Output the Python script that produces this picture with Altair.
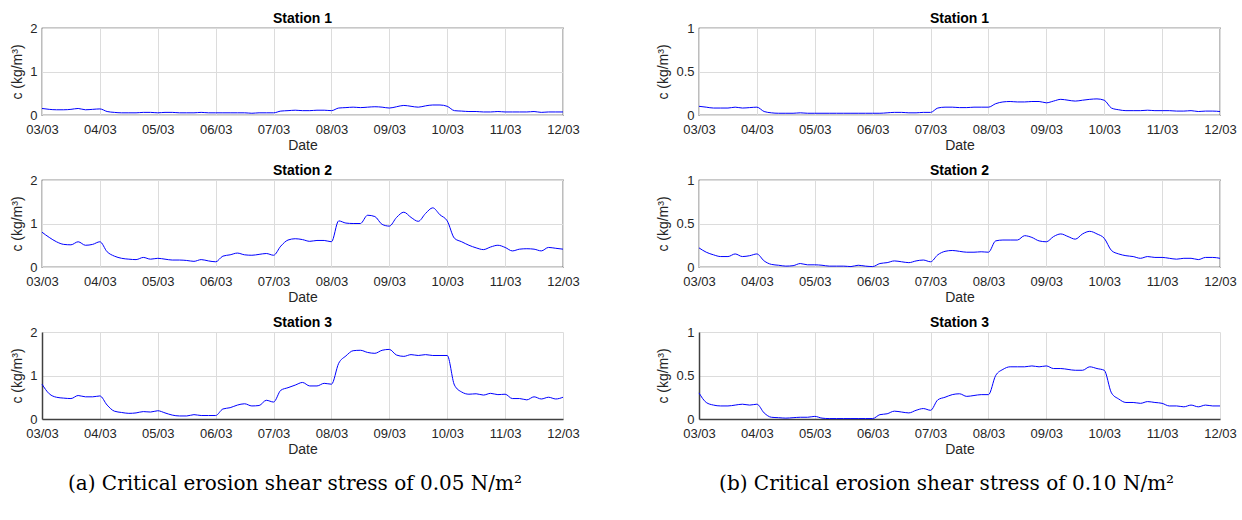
import altair as alt
import pandas as pd

DATE_LABELS = ["03/03", "04/03", "05/03", "06/03", "07/03",
               "08/03", "09/03", "10/03", "11/03", "12/03"]
STATIONS = ["Station 1", "Station 2", "Station 3"]

# 3-hourly samples from 03/03 00:00 to 12/03 00:00 (73 values each)
A_S1 = [0.15, 0.13, 0.12, 0.12, 0.13, 0.15, 0.12, 0.13, 0.14,
        0.08, 0.06, 0.05, 0.05, 0.05, 0.06, 0.06, 0.05,
        0.06, 0.06, 0.05, 0.05, 0.05, 0.06, 0.05, 0.05,
        0.05, 0.05, 0.05, 0.05, 0.04, 0.05, 0.05, 0.05,
        0.09, 0.10, 0.11, 0.10, 0.10, 0.11, 0.11, 0.10,
        0.16, 0.17, 0.18, 0.17, 0.18, 0.19, 0.18, 0.16,
        0.19, 0.22, 0.20, 0.18, 0.21, 0.23, 0.23, 0.20,
        0.10, 0.09, 0.08, 0.08, 0.07, 0.07, 0.08, 0.07,
        0.07, 0.07, 0.07, 0.08, 0.06, 0.07, 0.07, 0.07]
A_S2 = [0.80, 0.68, 0.58, 0.52, 0.51, 0.58, 0.50, 0.52, 0.58,
        0.35, 0.25, 0.20, 0.18, 0.17, 0.22, 0.18, 0.20,
        0.18, 0.16, 0.16, 0.15, 0.13, 0.17, 0.14, 0.12,
        0.25, 0.28, 0.32, 0.28, 0.27, 0.29, 0.31, 0.27,
        0.48, 0.62, 0.65, 0.63, 0.59, 0.61, 0.61, 0.58,
        1.06, 1.01, 1.00, 1.00, 1.19, 1.16, 0.98, 0.94,
        1.14, 1.26, 1.14, 1.05, 1.23, 1.36, 1.20, 1.06,
        0.66, 0.58, 0.50, 0.44, 0.40, 0.46, 0.50, 0.45,
        0.37, 0.41, 0.42, 0.41, 0.37, 0.45, 0.43, 0.41]
A_S3 = [0.80, 0.58, 0.50, 0.48, 0.47, 0.54, 0.51, 0.51, 0.53,
        0.32, 0.18, 0.15, 0.13, 0.14, 0.17, 0.16, 0.19,
        0.14, 0.09, 0.07, 0.07, 0.10, 0.08, 0.08, 0.08,
        0.23, 0.26, 0.32, 0.35, 0.30, 0.31, 0.43, 0.39,
        0.66, 0.72, 0.78, 0.84, 0.76, 0.76, 0.82, 0.80,
        1.28, 1.45, 1.57, 1.58, 1.53, 1.51, 1.58, 1.60,
        1.47, 1.44, 1.48, 1.46, 1.48, 1.46, 1.46, 1.46,
        0.78, 0.62, 0.57, 0.58, 0.55, 0.59, 0.56, 0.57,
        0.47, 0.47, 0.44, 0.51, 0.46, 0.50, 0.46, 0.50]

B_S1 = [0.10, 0.09, 0.08, 0.08, 0.08, 0.09, 0.08, 0.085, 0.09,
        0.04, 0.025, 0.02, 0.02, 0.02, 0.025, 0.02, 0.02,
        0.02, 0.02, 0.02, 0.02, 0.02, 0.02, 0.02, 0.02,
        0.02, 0.025, 0.03, 0.03, 0.025, 0.025, 0.03, 0.03,
        0.08, 0.09, 0.09, 0.085, 0.085, 0.09, 0.09, 0.09,
        0.13, 0.15, 0.155, 0.15, 0.15, 0.155, 0.155, 0.14,
        0.16, 0.18, 0.17, 0.16, 0.17, 0.18, 0.185, 0.17,
        0.08, 0.06, 0.05, 0.05, 0.05, 0.055, 0.05, 0.05,
        0.05, 0.045, 0.045, 0.05, 0.04, 0.045, 0.045, 0.04]
B_S2 = [0.22, 0.17, 0.14, 0.12, 0.12, 0.15, 0.12, 0.13, 0.15,
        0.07, 0.03, 0.02, 0.01, 0.015, 0.04, 0.025, 0.025,
        0.02, 0.01, 0.01, 0.01, 0.005, 0.02, 0.01, 0.005,
        0.04, 0.05, 0.07, 0.06, 0.05, 0.07, 0.08, 0.06,
        0.14, 0.18, 0.19, 0.18, 0.17, 0.17, 0.175, 0.17,
        0.30, 0.31, 0.31, 0.31, 0.36, 0.34, 0.30, 0.29,
        0.35, 0.38, 0.35, 0.32, 0.38, 0.41, 0.38, 0.33,
        0.19, 0.15, 0.13, 0.12, 0.10, 0.12, 0.11, 0.11,
        0.10, 0.09, 0.10, 0.10, 0.085, 0.11, 0.11, 0.10]
B_S3 = [0.30, 0.19, 0.16, 0.15, 0.15, 0.16, 0.17, 0.16, 0.17,
        0.07, 0.02, 0.015, 0.01, 0.015, 0.02, 0.02, 0.03,
        0.01, 0.005, 0.005, 0.005, 0.005, 0.005, 0.005, 0.005,
        0.05, 0.06, 0.09, 0.08, 0.07, 0.10, 0.12, 0.10,
        0.22, 0.25, 0.28, 0.29, 0.26, 0.27, 0.28, 0.28,
        0.50, 0.57, 0.60, 0.60, 0.60, 0.61, 0.60, 0.61,
        0.58, 0.58, 0.57, 0.56, 0.56, 0.60, 0.58, 0.56,
        0.30, 0.23, 0.19, 0.19, 0.18, 0.20, 0.19, 0.18,
        0.15, 0.15, 0.14, 0.16, 0.14, 0.16, 0.15, 0.15]

A_TICKS = [0, 1, 2]
B_TICKS = [0, 0.5, 1]
CAPTIONS = ["(a) Critical erosion shear stress of 0.05 N/m²",
            "(b) Critical erosion shear stress of 0.10 N/m²"]

FONT = "Liberation Sans"
LABEL_SIZE = 13
TITLE_SIZE = 14
AXIS_GRAY = "#262626"
label_expr = "[" + ",".join("'%s'" % s for s in DATE_LABELS) + "][datum.value]"


def panel(values, title, ymax, yticks, boxed):
    df = pd.DataFrame({"t": [i / 8 for i in range(len(values))], "c": values})
    common = dict(labelFont=FONT, labelFontSize=LABEL_SIZE, labelColor=AXIS_GRAY,
                  titleFont=FONT, titleFontSize=TITLE_SIZE, titleFontWeight="normal",
                  titleColor=AXIS_GRAY, gridColor="#dcdcdc", gridWidth=1,
                  domain=not boxed, domainColor="#404040", domainWidth=1.5,
                  ticks=False, labelFlush=False, labelOverlap=False)
    return alt.Chart(df).mark_line(color="#0000ff", strokeWidth=1, interpolate="monotone").encode(
        x=alt.X("t:Q",
                scale=alt.Scale(domain=[0, len(DATE_LABELS) - 1], nice=False, zero=False),
                axis=alt.Axis(values=list(range(len(DATE_LABELS))), labelExpr=label_expr,
                              title="Date", labelPadding=8, titlePadding=2, **common)),
        y=alt.Y("c:Q",
                scale=alt.Scale(domain=[0, ymax], nice=False),
                axis=alt.Axis(values=yticks, format="~g", title="c (kg/m³)",
                              labelPadding=5, titlePadding=5, **common)),
    ).properties(
        width=521, height=87,
        title=alt.TitleParams(title, font=FONT, fontSize=14, fontWeight="bold",
                              color="#000000", offset=-4),
        view=alt.ViewBackground(stroke=AXIS_GRAY if boxed else "transparent", strokeWidth=1.2),
    )


def column(series, ymax, yticks, caption):
    panels = [panel(v, STATIONS[i], ymax, yticks, i < 2) for i, v in enumerate(series)]
    return alt.vconcat(*panels, spacing=10).properties(
        title=alt.TitleParams(caption, orient="bottom", anchor="middle", font="DejaVu Serif",
                              fontSize=20, fontWeight="normal", color="#000000", offset=17))


chart = alt.hconcat(
    column([A_S1, A_S2, A_S3], 2, A_TICKS, CAPTIONS[0]),
    column([B_S1, B_S2, B_S3], 1, B_TICKS, CAPTIONS[1]),
    spacing=76,
).properties(
    padding={"left": 10, "top": 11, "right": 5, "bottom": 5},
    background="white",
)

chart.save("out.html", embed_options={"renderer": "svg", "actions": False})
